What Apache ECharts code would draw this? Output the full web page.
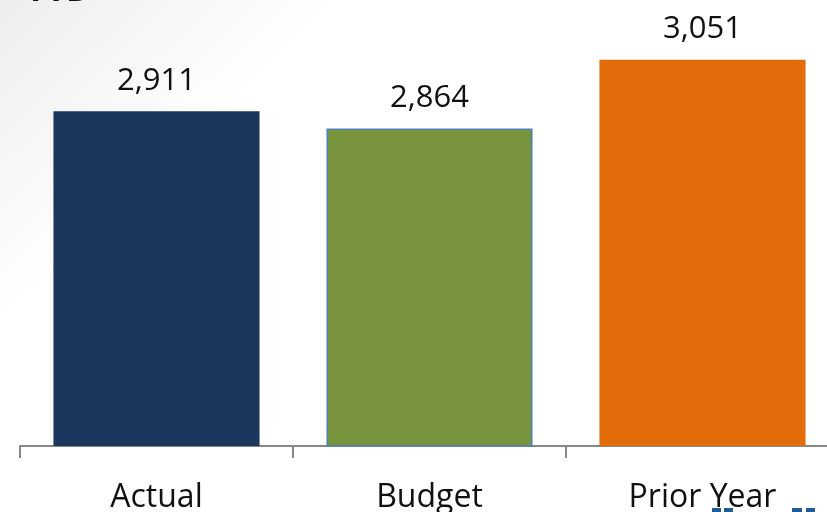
<!DOCTYPE html>
<html>
<head>
<meta charset="utf-8">
<title>YTD</title>
<script src="https://cdn.jsdelivr.net/npm/echarts@6/dist/echarts.min.js"></script>
<style>
  html, body { margin: 0; padding: 0; background: #ffffff; }
  #chart { width: 827px; height: 512px; }
</style>
</head>
<body>
<div id="chart"></div>
<script>
// YTD comparison: actual vs budget vs prior year
const categories = ['Actual', 'Budget', 'Prior Year'];
const values = [2911, 2864, 3051];
const barColors = ['#1b375e', '#77933c', '#e36c0a'];
const barBorders = ['#1b375e', '#4f81bd', '#e36c0a'];

const chart = echarts.init(document.getElementById('chart'), null, { renderer: 'canvas' });

const fmt = v => v.toString().replace(/\B(?=(\d{3})+(?!\d))/g, ',');

const option = {
  animation: false,
  backgroundColor: new echarts.graphic.LinearGradient(0, 0, 0.5, 0.85, [
    { offset: 0, color: '#ededed' },
    { offset: 0.4, color: '#ffffff' },
    { offset: 1, color: '#ffffff' }
  ]),
  title: {
    text: 'YTD',
    left: 20,
    top: -31,
    textStyle: { fontFamily: 'Open Sans', fontWeight: 'bold', fontSize: 34, color: '#111111' }
  },
  // the category axis runs past the right edge of the canvas
  grid: { left: 20, width: 819, top: 5, height: 441, containLabel: false, outerBoundsMode: 'none' },
  xAxis: {
    type: 'category',
    data: categories,
    axisLine: { show: true, lineStyle: { color: '#878787', width: 2 } },
    axisTick: { show: true, alignWithLabel: false, length: 12, lineStyle: { color: '#878787', width: 2 } },
    axisLabel: { margin: 36, fontFamily: 'Open Sans', fontSize: 32, color: '#111111' }
  },
  yAxis: {
    type: 'value',
    min: 2000,
    max: 3200,
    show: false,
    splitLine: { show: false }
  },
  series: [{
    type: 'bar',
    barWidth: '75.5%',
    data: values.map((v, i) => ({
      value: v,
      itemStyle: { color: barColors[i], borderColor: barBorders[i], borderWidth: i === 1 ? 1.5 : 0 }
    })),
    label: {
      show: true,
      position: 'top',
      distance: 15,
      fontFamily: 'Open Sans',
      fontSize: 31,
      color: '#111111',
      formatter: p => fmt(p.value)
    }
  }],
  graphic: [
    { type: 'rect', shape: { x: 712, y: 508, width: 9, height: 4 }, style: { fill: '#1f5c99' } },
    { type: 'rect', shape: { x: 724, y: 508, width: 9, height: 4 }, style: { fill: '#1f5c99' } },
    { type: 'rect', shape: { x: 792, y: 508, width: 10, height: 4 }, style: { fill: '#1f5c99' } },
    { type: 'rect', shape: { x: 806, y: 508, width: 9, height: 4 }, style: { fill: '#1f5c99' } }
  ]
};

chart.setOption(option);
</script>
</body>
</html>
